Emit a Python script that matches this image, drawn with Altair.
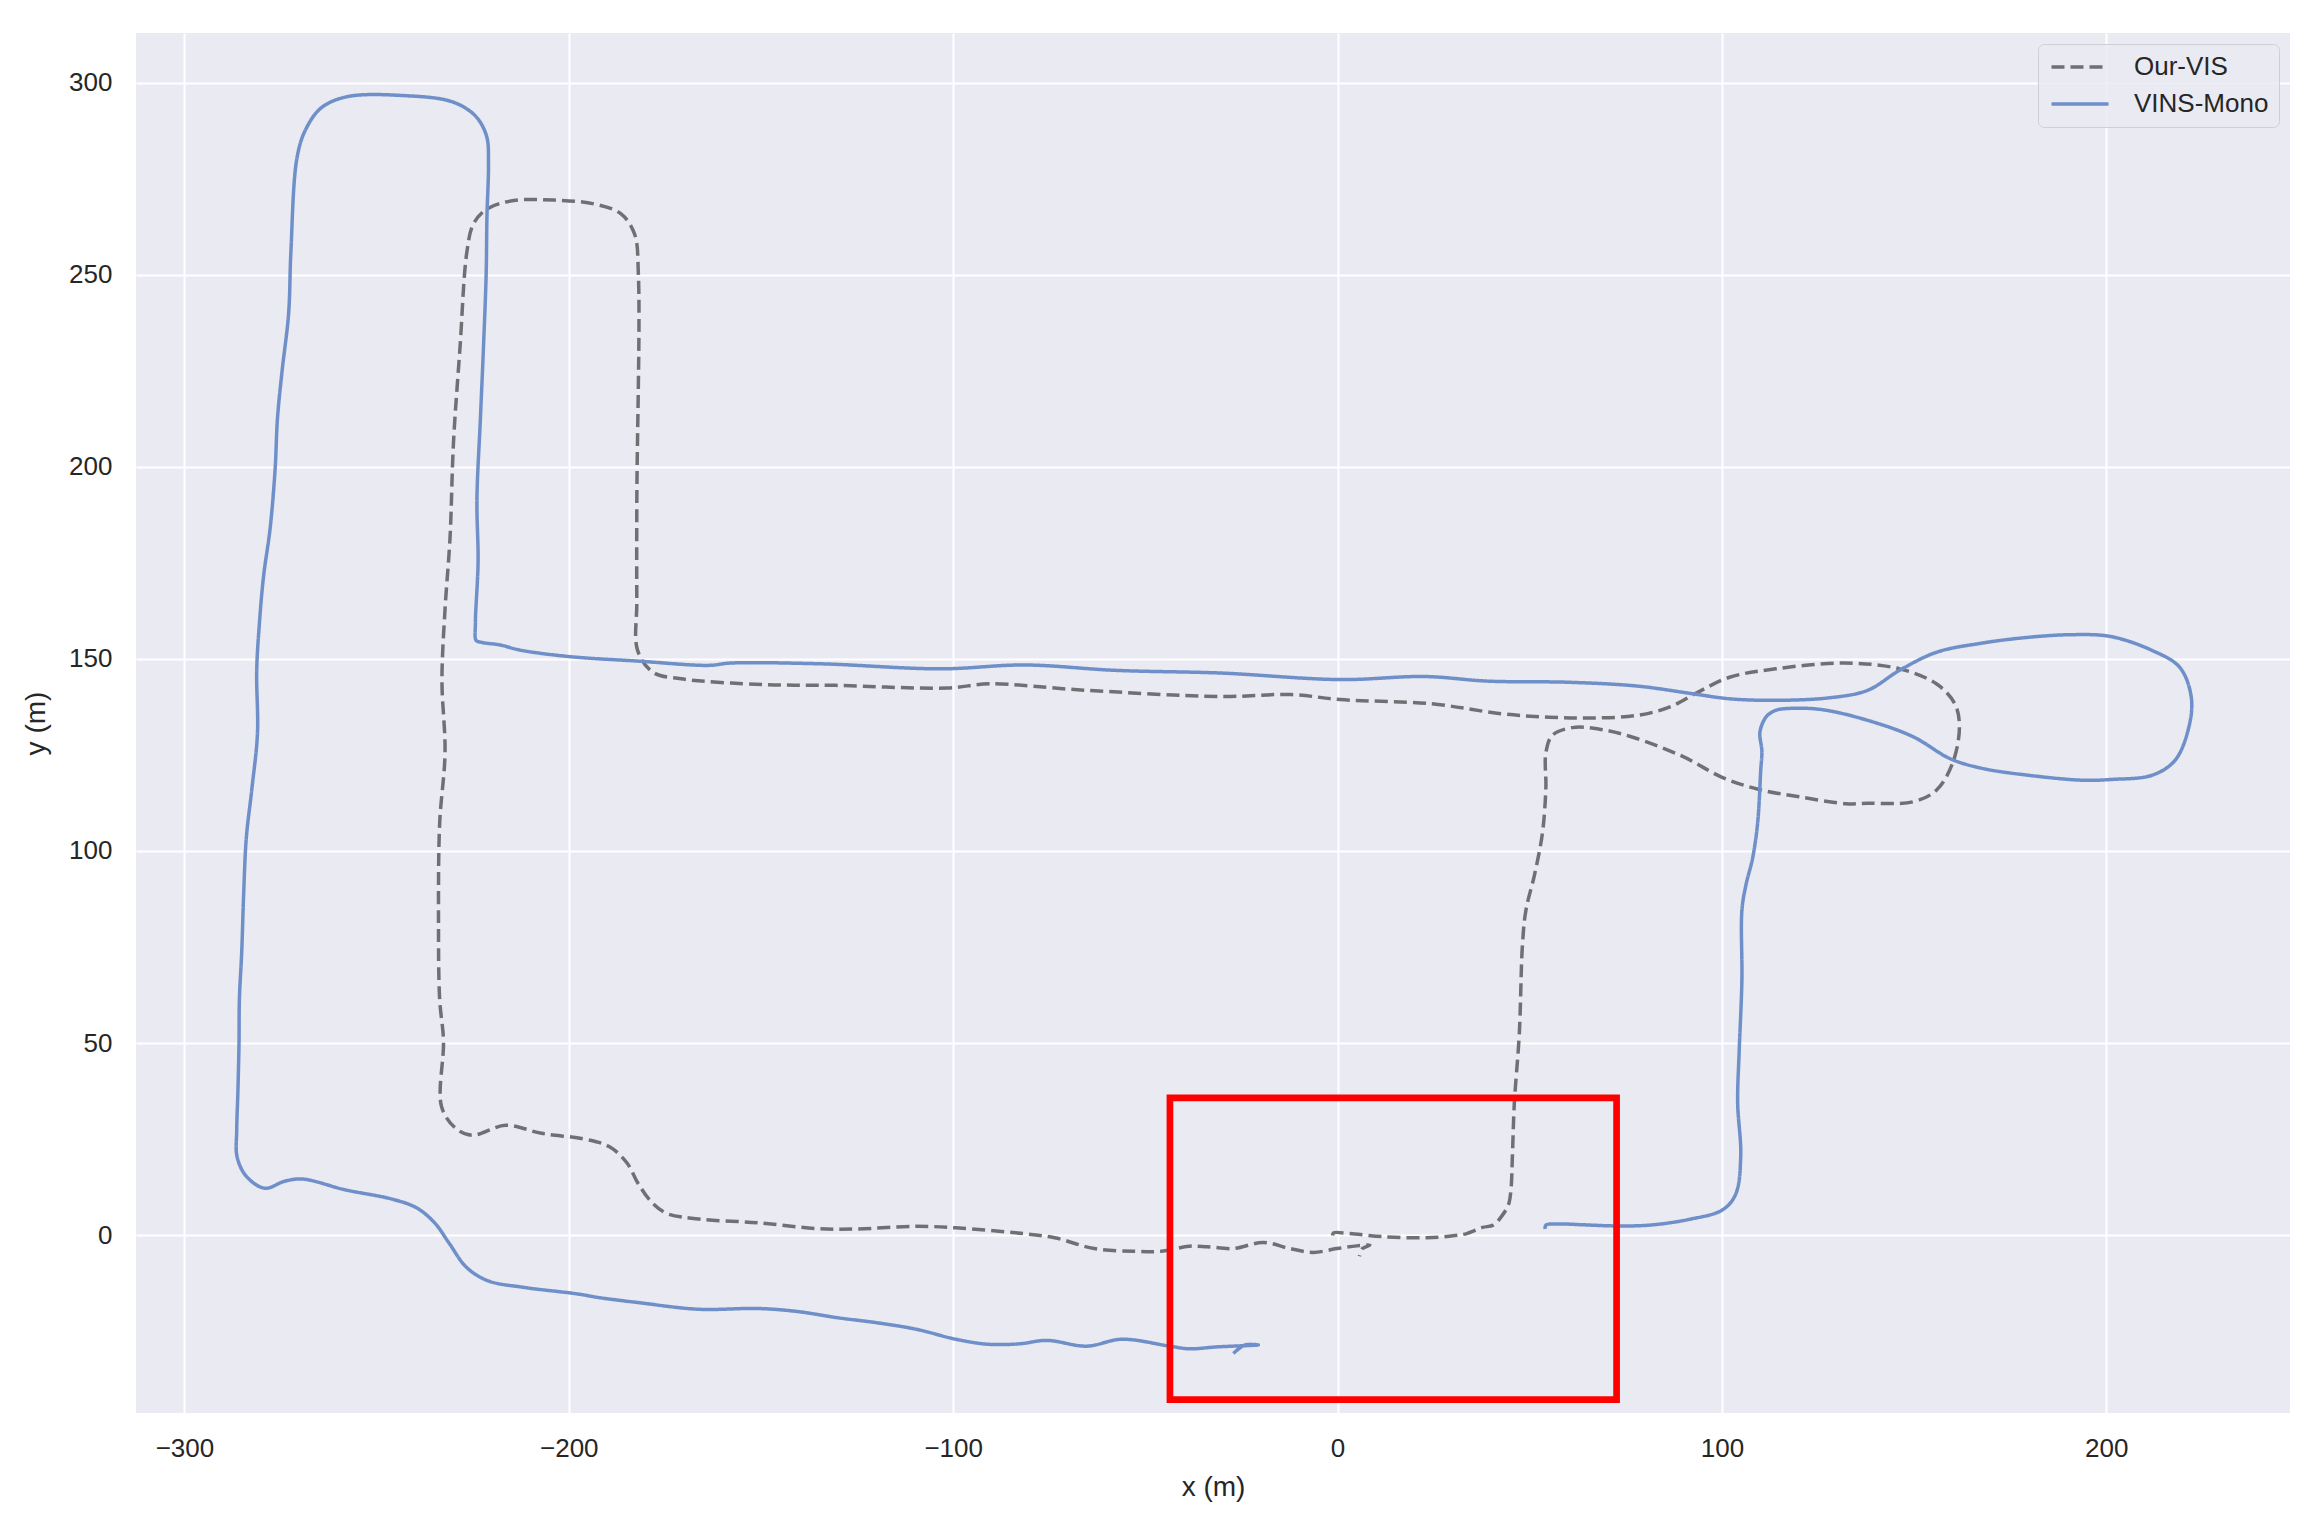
import altair as alt
import pandas as pd

series = ["Our-VIS", "VINS-Mono"]
series_colors = ["#707074", "#6f8fc9"]

# Our-VIS trajectory (dashed)
vis_x = [-1.3, -1.0, 3.2, 11.9, 23.2, 29.1, 33.6, 37.7, 40.5, 42.9,
         44.5, 45.1, 45.5, 46.0, 47.3, 48.1, 49.0, 51.2, 53.3, 54.2,
         54.2, 55.9, 61.1, 68.1, 76.8, 89.8, 100.2, 109.7, 120.1, 132.3,
         137.9, 149.8, 155.8, 160.0, 161.8, 160.6, 155.8, 146.2, 131.9, 114.0,
         102.0, 93.7, 86.5, 78.1, 66.2, 55.1, 42.7, 24.5, 0.7, -12.0,
         -30.3, -66.8, -90.5, -101.5, -130.7, -148.9, -170.8, -178.1, -182.1, -182.3,
         -182.3, -181.9, -182.9, -186.4, -193.4, -203.8, -214.3, -221.3, -224.8, -226.5,
         -228.3, -230.0, -230.9, -232.2, -233.0, -232.2, -233.6, -233.9, -233.6, -232.6,
         -233.1, -229.4, -225.2, -216.4, -207.1, -196.0, -189.4, -184.8, -182.0, -178.3,
         -174.4, -166.2, -150.7, -135.3, -125.0, -109.6, -99.3, -83.8, -73.6, -63.3,
         -53.0, -45.8, -38.6, -34.0, -27.1, -19.3, -12.4, -6.3, -0.2, 5.0,
         8.4, 6.5, 5.7]
vis_y = [-0.1, 0.6, 0.4, -0.4, -0.7, -0.3, 0.4, 2.0, 2.6, 5.2,
         8.0, 11.6, 20.7, 34.4, 52.6, 75.4, 84.5, 93.6, 104.6, 116.4,
         125.5, 130.1, 132.1, 131.7, 129.6, 124.6, 119.1, 116.0, 114.1, 112.3,
         112.4, 112.8, 115.8, 122.8, 132.3, 138.3, 143.5, 147.4, 148.9, 147.4,
         145.2, 141.3, 137.5, 135.3, 134.6, 134.8, 135.7, 138.3, 139.4, 140.7,
         140.2, 141.9, 143.5, 142.4, 143.1, 143.3, 144.8, 146.5, 152.2, 165.0,
         191.3, 250.2, 260.6, 265.8, 268.4, 269.4, 269.3, 267.1, 263.2, 256.0,
         231.1, 206.3, 181.5, 162.9, 144.3, 125.7, 107.1, 82.3, 61.4, 50.6,
         33.4, 27.8, 26.0, 28.6, 26.5, 25.0, 23.0, 18.7, 13.5, 8.4,
         5.6, 4.2, 3.2, 1.7, 1.6, 2.3, 1.9, 0.6, -0.7, -3.5,
         -4.2, -4.2, -2.9, -3.0, -3.5, -1.9, -3.5, -4.5, -3.5, -2.8,
         -2.6, -3.5, -5.5]

# VINS-Mono trajectory (solid)
vins_x = [54.0, 54.2, 58.0, 63.7, 72.0, 81.1, 91.5, 100.2, 103.6, 104.9,
          104.1, 104.5, 105.2, 105.2, 106.2, 108.0, 109.3, 110.1, 110.4, 109.9,
          111.6, 114.0, 117.6, 125.9, 137.9, 149.8, 159.4, 167.7, 179.7, 194.0,
          201.2, 211.9, 217.9, 221.5, 222.1, 219.1, 211.9, 201.2, 191.6, 179.7,
          167.7, 155.8, 146.2, 137.9, 128.3, 114.0, 102.0, 92.5, 78.1, 60.2,
          39.1, 22.6, 0.7, -30.3, -57.7, -81.4, -103.3, -134.3, -158.0, -163.5,
          -181.8, -200.0, -212.8, -217.8, -222.8, -224.1, -224.3, -223.6, -223.9, -223.0,
          -222.2, -221.5, -221.3, -220.9, -221.3, -223.6, -227.1, -231.7, -241.0, -257.3,
          -264.3, -268.4, -270.7, -272.3, -272.9, -274.6, -275.8, -276.4, -277.7, -279.4,
          -280.5, -281.2, -281.0, -282.5, -283.9, -284.6, -285.1, -285.7, -285.8, -286.1,
          -286.4, -286.3, -283.9, -279.1, -274.0, -269.3, -258.2, -246.1, -239.6, -234.9,
          -231.2, -226.6, -221.0, -211.7, -197.8, -191.9, -181.6, -166.2, -150.7, -140.4,
          -130.1, -119.9, -109.6, -99.3, -91.0, -82.8, -75.6, -65.3, -56.1, -43.7,
          -38.6, -31.5, -20.6, -24.1, -27.1]
vins_y = [1.6, 2.6, 2.9, 2.7, 2.4, 2.6, 4.1, 6.6, 10.7, 20.7,
          34.4, 48.0, 66.3, 84.5, 90.9, 98.2, 107.3, 121.0, 126.0, 131.0,
          135.0, 136.6, 137.1, 136.8, 134.0, 129.7, 124.0, 121.5, 119.7, 118.4,
          118.6, 119.7, 123.6, 132.3, 140.1, 147.8, 152.2, 155.8, 156.3, 155.6,
          154.1, 151.7, 147.0, 141.8, 139.9, 139.2, 139.6, 140.9, 142.9, 143.9,
          144.2, 145.4, 144.6, 146.3, 147.0, 148.4, 147.4, 148.7, 148.9, 148.3,
          149.4, 150.6, 152.3, 153.6, 154.3, 154.8, 159.2, 175.3, 191.4, 212.5,
          231.1, 250.2, 265.0, 278.8, 285.7, 290.5, 293.5, 295.4, 296.5, 296.4,
          293.5, 287.9, 280.5, 256.0, 239.8, 224.9, 212.5, 199.5, 184.0, 171.6,
          159.2, 146.8, 130.6, 115.8, 103.4, 88.5, 73.6, 61.4, 50.0, 37.0,
          27.3, 20.4, 15.3, 12.2, 14.0, 14.6, 11.8, 9.4, 7.1, 3.2,
          -2.0, -8.4, -11.9, -13.6, -15.3, -16.3, -17.6, -19.3, -19.1, -19.9,
          -21.5, -22.8, -24.5, -27.1, -28.4, -28.3, -27.4, -28.9, -27.1, -28.9,
          -29.6, -29.1, -28.6, -28.6, -30.8]

# highlighted region (red box)
box_x = [-43.6, 72.6]
box_y = [-42.8, 35.7]

x_ticks = [-300, -200, -100, 0, 100, 200]
y_ticks = [0, 50, 100, 150, 200, 250, 300]
x_domain = [-312.6, 247.8]
y_domain = [-46.3, 312.9]

rows = []
for name, xs_, ys_ in [(series[0], vis_x, vis_y), (series[1], vins_x, vins_y)]:
    for i, (xv, yv) in enumerate(zip(xs_, ys_)):
        rows.append({"series": name, "i": i, "x": xv, "y": yv})
df = pd.DataFrame(rows)

box_df = pd.DataFrame({"x": [box_x[0]], "x2": [box_x[1]], "y": [box_y[0]], "y2": [box_y[1]]})

xs = alt.Scale(domain=x_domain, nice=False, zero=False)
ys = alt.Scale(domain=y_domain, nice=False, zero=False)

x_axis = alt.Axis(values=x_ticks, labelPadding=22, titlePadding=12)
y_axis = alt.Axis(values=y_ticks, labelPadding=24, titlePadding=18)

lines = alt.Chart(df).mark_line(strokeWidth=3.5, strokeJoin="round", interpolate="catmull-rom").encode(
    x=alt.X("x:Q", scale=xs, axis=x_axis, title="x (m)"),
    y=alt.Y("y:Q", scale=ys, axis=y_axis, title="y (m)"),
    color=alt.Color("series:N", scale=alt.Scale(domain=series, range=series_colors),
                    legend=alt.Legend(title=None)),
    strokeDash=alt.StrokeDash("series:N", scale=alt.Scale(domain=series, range=[[13, 6], [1, 0]]),
                              legend=alt.Legend(title=None)),
    order=alt.Order("i:Q"),
)

box = alt.Chart(box_df).mark_rect(fillOpacity=0, stroke="#ff0000", strokeWidth=6.7).encode(
    x=alt.X("x:Q", scale=xs, axis=x_axis, title="x (m)"),
    x2="x2",
    y=alt.Y("y:Q", scale=ys, axis=y_axis, title="y (m)"),
    y2="y2",
)

chart = alt.layer(lines, box).properties(
    width=2154,
    height=1380,
    autosize=alt.AutoSizeParams(type="none"),
    padding={"left": 128, "top": 25, "right": 22, "bottom": 114},
    background="white",
).configure_view(
    fill="#EAEAF2", strokeWidth=0
).configure_axis(
    domain=False, ticks=False, grid=True, gridColor="#ffffff", gridWidth=2,
    labelFont="Liberation Sans", labelFontSize=26, labelColor="#262626",
    titleFont="Liberation Sans", titleFontSize=28, titleFontWeight="normal", titleColor="#262626",
).configure_legend(
    orient="top-right", offset=11, padding=10,
    fillColor="rgba(234,234,242,0.8)", strokeColor="#cfcfd6", cornerRadius=6,
    labelFont="Liberation Sans", labelFontSize=26, labelColor="#262626",
    symbolType="M-1,0H5", symbolSize=361, symbolStrokeWidth=3.5,
    labelOffset=60, rowPadding=11,
)

chart.save("out.html", embed_options={"renderer": "svg", "actions": False})
